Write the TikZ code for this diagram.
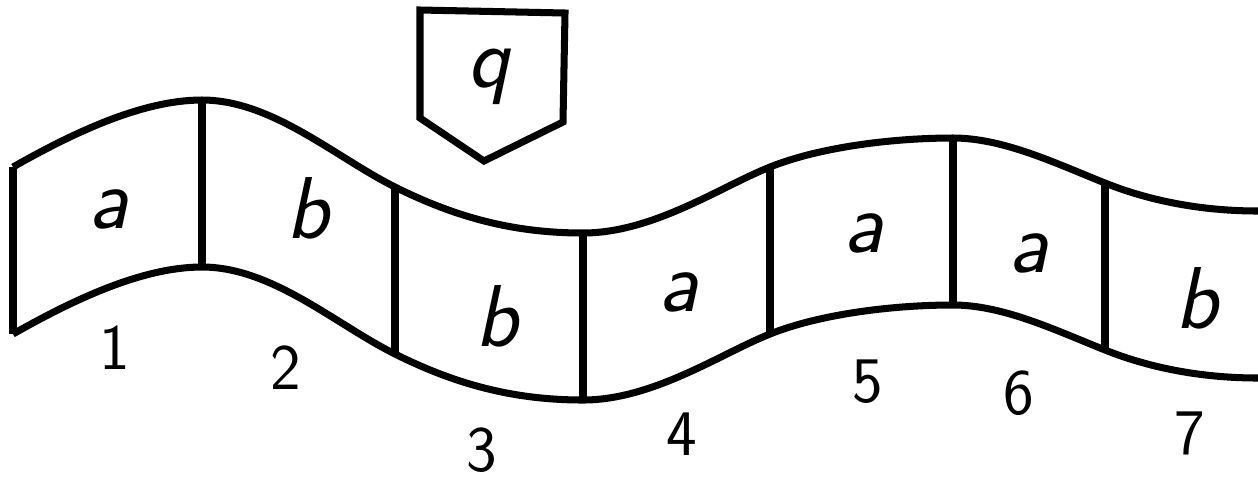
\documentclass[tikz,border=0pt]{standalone}
\usepackage{fontspec}
\usetikzlibrary{calc}
\tikzset{
  tape/.style={draw=black,line width=4pt,line join=round},
  headbox/.style={draw=black,line width=4pt,line join=miter},
  sym/.style={font=\fontsize{50}{60}\selectfont\sffamily\itshape,inner sep=0pt},
  idx/.style={font=\fontsize{37}{44}\selectfont\sffamily,inner sep=0pt},
}

\begin{document}
\begin{tikzpicture}[x=0.02cm,y=-0.02cm]
  \useasboundingbox (0,0) rectangle (1258,478);
  % band
  \foreach \i/\x/\y in {0/13/167,1/202/100,2/395/187,3/583/233,
                        4/770/167,5/953/138,6/1105/183,7/1258/211}{
    \coordinate (t\i) at (\x,\y);
    \coordinate (b\i) at (\x,\y+167);
  }
  \foreach \s in {t,b}
    \draw[tape] (\s0) .. controls +(60,-34) and +(-60,0) .. (\s1)
      .. controls +(70,0) and +(-60,-30) .. (\s2)
      .. controls +(60,30) and +(-70,0) .. (\s3)
      .. controls +(70,0) and +(-50,20) .. (\s4)
      .. controls +(50,-20) and +(-60,0) .. (\s5)
      .. controls +(50,0) and +(-50,-20) .. (\s6)
      .. controls +(50,20) and +(-50,0) .. (\s7);
  \foreach \i in {0,...,6}
    \draw[tape] (t\i) -- (b\i);
  % contents and positions
  \foreach \i/\x/\y/\c in {1/108/209/a,2/308/208/b,3/497/316/b,4/678/292/a,
                           5/863/233/a,6/1028/253/a,7/1197/298/b}
    \node[sym] (c\i) at (\x,\y) {\c};
  \foreach \i/\x/\y in {1/115/348,2/286/368,3/482/450,4/682/434,
                        5/868/382,6/1019/393,7/1190/433}
    \node[idx] (n\i) at (\x,\y) {\i};
  % head
  \coordinate (h1) at (420,10);
  \coordinate (h2) at (565,13);
  \coordinate (h3) at (563,122);
  \coordinate (h4) at (484,161);
  \coordinate (h5) at (420,118);
  \draw[headbox] (h1) -- (h2) -- (h3) -- (h4) -- (h5) -- cycle;
  \node[sym] (head) at (489,77) {q};
\end{tikzpicture}
\end{document}
